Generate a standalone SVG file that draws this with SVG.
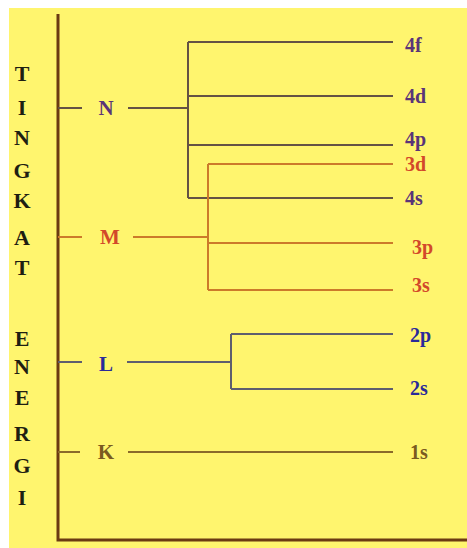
<svg xmlns="http://www.w3.org/2000/svg" width="467" height="548" viewBox="0 0 467 548">
<style>
text{font-family:"Liberation Serif","Times New Roman",serif;font-weight:bold}
.side{font-size:22px;fill:#1e1e12;text-anchor:middle}
.lbl{font-size:21px;text-anchor:middle}
.orb{font-size:20px}
.ln{fill:none;stroke-width:2}
.n{stroke:#645244}
.m{stroke:#cc7a2a}
.l{stroke:#5e5e6e}
.k{stroke:#8a6a2a}
.tn{fill:#5a3478}
.tm{fill:#d2482a}
.tl{fill:#2a2a9a}
.tk{fill:#7a5a20}
</style>
<rect x="0" y="0" width="467" height="548" fill="#ffffff"/>
<rect x="9" y="8" width="458" height="540" fill="#fff56e"/>
<g id="axis">
<path d="M58 14 V540 H467" fill="none" stroke="#6b3a12" stroke-width="3"/>
</g>
<g id="side-label">
<text class="side" x="22" y="81">T</text>
<text class="side" x="22" y="115">I</text>
<text class="side" x="22" y="145">N</text>
<text class="side" x="22" y="178">G</text>
<text class="side" x="22" y="208">K</text>
<text class="side" x="22" y="245">A</text>
<text class="side" x="22" y="275">T</text>
<text class="side" x="22" y="346">E</text>
<text class="side" x="22" y="374">N</text>
<text class="side" x="22" y="405">E</text>
<text class="side" x="22" y="441">R</text>
<text class="side" x="22" y="473">G</text>
<text class="side" x="22" y="505">I</text>
</g>
<g id="connectors">
<path class="ln n" d="M58 108 H82 M128 108 H188 M188 42 V198 M188 42 H393 M188 96 H393 M188 145 H393 M188 198 H393"/>
<path class="ln m" d="M58 237 H82 M133 237 H208 M208 164 V290 M208 164 H393 M208 243 H393 M208 290 H393"/>
<path class="ln l" d="M58 362 H82 M127 362 H231 M231 334 V389 M231 334 H393 M231 389 H393"/>
<path class="ln k" d="M58 452 H80 M128 452 H393"/>
</g>
<g id="node-N"><text class="lbl tn" x="106" y="115">N</text></g>
<g id="node-M"><text class="lbl tm" x="110" y="244">M</text></g>
<g id="node-L"><text class="lbl tl" x="106" y="371">L</text></g>
<g id="node-K"><text class="lbl tk" x="106" y="459">K</text></g>
<g id="node-4f"><text class="orb tn" x="405" y="52">4f</text></g>
<g id="node-4d"><text class="orb tn" x="405" y="103">4d</text></g>
<g id="node-4p"><text class="orb tn" x="405" y="146">4p</text></g>
<g id="node-3d"><text class="orb tm" x="405" y="171">3d</text></g>
<g id="node-4s"><text class="orb tn" x="405" y="205">4s</text></g>
<g id="node-3p"><text class="orb tm" x="412" y="254">3p</text></g>
<g id="node-3s"><text class="orb tm" x="412" y="292">3s</text></g>
<g id="node-2p"><text class="orb tl" x="410" y="342">2p</text></g>
<g id="node-2s"><text class="orb tl" x="410" y="395">2s</text></g>
<g id="node-1s"><text class="orb tk" x="410" y="459">1s</text></g>
</svg>
